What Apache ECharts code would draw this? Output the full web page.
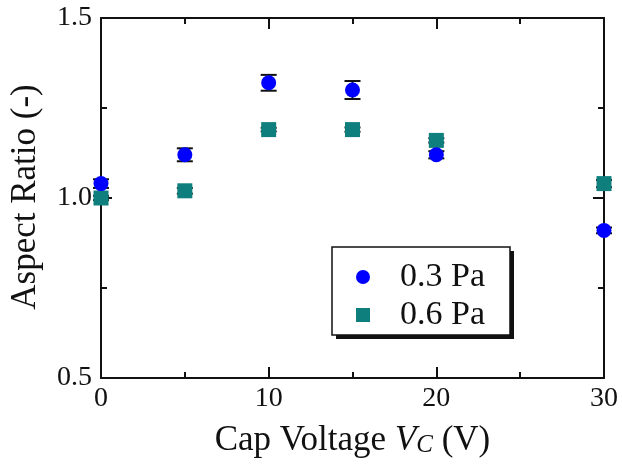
<!DOCTYPE html>
<html>
<head>
<meta charset="utf-8">
<script src="https://cdn.jsdelivr.net/npm/echarts@6/dist/echarts.min.js"></script>
<style>
  html, body { margin: 0; padding: 0; background: #fff; }
  #chart { width: 622px; height: 474px; }
</style>
</head>
<body>
<div id="chart"></div>
<script>
// Cap voltage (V) at which each aspect ratio was measured
const capVoltage = [0, 5, 10, 15, 20, 30];

// Aspect ratio and its spread at 0.3 Pa
const ratio03 = [1.04, 1.12, 1.32, 1.30, 1.12, 0.91];
const err03 = [0.012, 0.018, 0.022, 0.025, 0.010, 0.008];

// Aspect ratio and its spread at 0.6 Pa
const ratio06 = [1.00, 1.02, 1.19, 1.19, 1.16, 1.04];
const err06 = [0.006, 0.008, 0.005, 0.006, 0.006, 0.010];

const seriesNames = ['0.3 Pa', '0.6 Pa'];
const xTicks = [0, 10, 20, 30];
const yTicks = [0.5, 1.0, 1.5];

const FONT = '"Liberation Serif", "Times New Roman", serif';
const INK = '#111';
const BLUE = '#0000ff';
const TEAL = '#0e7f7c';

const points = (ys) => capVoltage.map((x, i) => [x, ys[i]]);
const bars = (ys, es) => capVoltage.map((x, i) => [x, ys[i] - es[i], ys[i] + es[i]]);

// Vertical error bar with short caps
function errorBar(params, api) {
  const x = api.value(0);
  const lo = api.coord([x, api.value(1)]);
  const hi = api.coord([x, api.value(2)]);
  const half = 8;
  const style = { stroke: INK, lineWidth: 2 };
  return {
    type: 'group',
    children: [
      { type: 'line', shape: { x1: lo[0], y1: lo[1], x2: hi[0], y2: hi[1] }, style },
      { type: 'line', shape: { x1: lo[0] - half, y1: lo[1], x2: lo[0] + half, y2: lo[1] }, style },
      { type: 'line', shape: { x1: hi[0] - half, y1: hi[1], x2: hi[0] + half, y2: hi[1] }, style }
    ]
  };
}

// Framed axes: long ticks at labelled values, short ticks halfway between,
// all pointing into the plot on every side.
function frameAxis(kind, position, interval, tickLen, showLine, extra) {
  const ticks = kind === 'x' ? xTicks : yTicks;
  return Object.assign({
    type: 'value',
    position,
    min: ticks[0],
    max: ticks[ticks.length - 1],
    interval,
    axisLine: { show: showLine, onZero: false, lineStyle: { color: INK, width: 2 } },
    axisTick: { show: true, inside: true, length: tickLen, lineStyle: { color: INK, width: 2 } },
    axisLabel: { show: false },
    splitLine: { show: false }
  }, extra || {});
}

const chart = echarts.init(document.getElementById('chart'), null, { renderer: 'canvas' });

chart.setOption({
  animation: false,
  backgroundColor: '#fff',
  grid: { left: 101, right: 18, top: 18, bottom: 96, containLabel: false },
  xAxis: [
    frameAxis('x', 'bottom', 10, 11, true, {
      axisLabel: { show: true, color: INK, fontFamily: FONT, fontSize: 28, margin: 7 },
      name: '{a|Cap Voltage }{v|V}{s|C}{a| (V)}',
      nameLocation: 'middle',
      nameGap: 40,
      nameTextStyle: {
        color: INK, fontFamily: FONT, fontSize: 35,
        rich: {
          a: { fontFamily: FONT, fontSize: 35, color: INK, lineHeight: 40, verticalAlign: 'bottom' },
          v: { fontFamily: FONT, fontSize: 35, fontStyle: 'italic', color: INK, lineHeight: 40, verticalAlign: 'bottom' },
          s: { fontFamily: FONT, fontSize: 25, fontStyle: 'italic', color: INK, lineHeight: 40, verticalAlign: 'bottom', padding: [15, 0, 0, 0] }
        }
      }
    }),
    frameAxis('x', 'top', 10, 11, true),
    frameAxis('x', 'bottom', 5, 6, false),
    frameAxis('x', 'top', 5, 6, false)
  ],
  yAxis: [
    frameAxis('y', 'left', 0.5, 11, true, {
      axisLabel: {
        show: true, color: INK, fontFamily: FONT, fontSize: 28, margin: 9,
        formatter: (v) => v.toFixed(1)
      }
    }),
    frameAxis('y', 'right', 0.5, 11, true),
    frameAxis('y', 'left', 0.25, 6, false),
    frameAxis('y', 'right', 0.25, 6, false)
  ],
  legend: {
    orient: 'vertical',
    left: 332, top: 247,
    padding: [13, 25, 3, 24],
    itemGap: 4,
    itemWidth: 14, itemHeight: 14,
    backgroundColor: '#fff',
    borderColor: INK, borderWidth: 1.5, borderRadius: 0,
    z: 10,
    textStyle: { fontFamily: FONT, fontSize: 34, color: INK, lineHeight: 34, padding: [0, 0, 0, 25] },
    data: [
      { name: seriesNames[0], icon: 'circle' },
      { name: seriesNames[1], icon: 'rect' }
    ]
  },
  graphic: [
    {
      // drop shadow behind the legend box
      type: 'rect',
      z: 9,
      shape: { x: 336, y: 251, width: 178, height: 88 },
      style: { fill: INK }
    },
    {
      type: 'text',
      x: 26, y: 197,
      rotation: Math.PI / 2,
      style: {
        text: 'Aspect Ratio (-)',
        font: '35px ' + FONT,
        fill: INK,
        align: 'center',
        verticalAlign: 'middle'
      }
    }
  ],
  series: [
    {
      type: 'custom', name: 'err03', renderItem: errorBar, data: bars(ratio03, err03),
      xAxisIndex: 0, yAxisIndex: 0, z: 2, clip: false, silent: true
    },
    {
      type: 'custom', name: 'err06', renderItem: errorBar, data: bars(ratio06, err06),
      xAxisIndex: 0, yAxisIndex: 0, z: 2, clip: false, silent: true
    },
    {
      type: 'scatter', name: seriesNames[1], data: points(ratio06),
      xAxisIndex: 0, yAxisIndex: 0,
      symbol: 'rect', symbolSize: 15, itemStyle: { color: TEAL, opacity: 1 },
      clip: false, z: 3
    },
    {
      type: 'scatter', name: seriesNames[0], data: points(ratio03),
      xAxisIndex: 0, yAxisIndex: 0,
      symbol: 'circle', symbolSize: 15, itemStyle: { color: BLUE, opacity: 1 },
      clip: false, z: 4
    }
  ]
});
</script>
</body>
</html>
